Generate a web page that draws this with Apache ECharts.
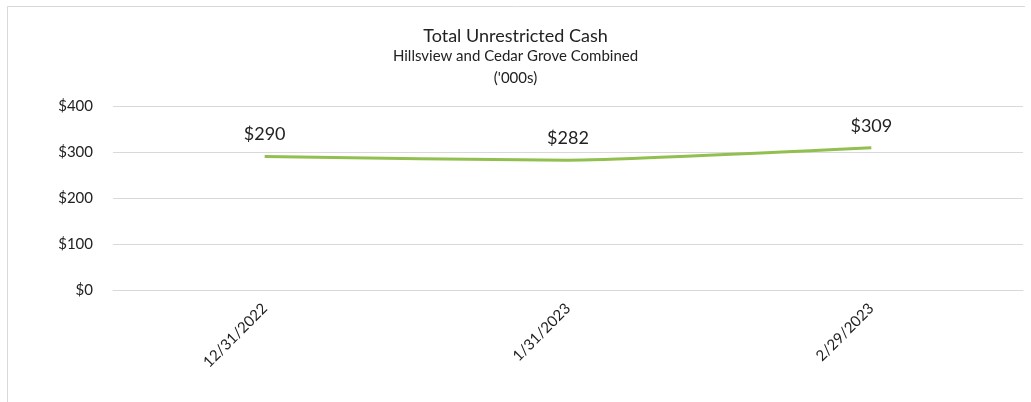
<!DOCTYPE html>
<html><head><meta charset="utf-8">
<script src="https://cdn.jsdelivr.net/npm/echarts@6/dist/echarts.min.js"></script>
<style>html,body{margin:0;padding:0;background:#fff}#c{width:1031px;height:402px}</style>
</head><body><div id="c"></div>
<script>
const categories = ['12/31/2022', '1/31/2023', '2/29/2023'];
const cashValues = [290, 282, 309];
const yTicks = [0, 100, 200, 300, 400];

const chart = echarts.init(document.getElementById('c'));
const FONT = 'Lato, "Open Sans", sans-serif';
chart.setOption({
  backgroundColor: '#fff',
  animation: false,
  graphic: [
    {type: 'line', shape: {x1: 7.5, y1: 6.5, x2: 1025, y2: 6.5}, style: {stroke: '#d9d9d9', lineWidth: 1}},
    {type: 'line', shape: {x1: 7.5, y1: 6.5, x2: 7.5, y2: 402}, style: {stroke: '#d9d9d9', lineWidth: 1}},
    {type: 'text', left: 'center', top: 27, style: {text: 'Total Unrestricted Cash', font: '18px ' + FONT, fill: '#222', textAlign: 'center'}},
    {type: 'text', left: 'center', top: 49, style: {text: 'Hillsview and Cedar Grove Combined', font: '15px ' + FONT, fill: '#222', textAlign: 'center'}},
    {type: 'text', left: 'center', top: 71, style: {text: "('000s)", font: '15px ' + FONT, fill: '#222', textAlign: 'center'}}
  ],
  grid: {left: 113, right: 8, top: 106, bottom: 112, containLabel: false},
  xAxis: {
    type: 'category',
    data: categories,
    boundaryGap: true,
    axisLine: {show: true, lineStyle: {color: '#d9d9d9'}},
    axisTick: {show: false},
    axisLabel: {rotate: 45, margin: 16, color: '#222', fontSize: 15, fontFamily: FONT}
  },
  yAxis: {
    type: 'value',
    min: yTicks[0], max: yTicks[yTicks.length - 1], interval: 100,
    axisLine: {show: false}, axisTick: {show: false},
    splitLine: {lineStyle: {color: '#d9d9d9'}},
    axisLabel: {margin: 20, color: '#222', fontSize: 15, fontFamily: FONT, formatter: v => '$' + v}
  },
  series: [{
    type: 'line',
    data: cashValues,
    symbol: 'circle',
    symbolSize: 2,
    showSymbol: true,
    smooth: 0.15,
    itemStyle: {color: 'rgba(0,0,0,0)', borderWidth: 0},
    lineStyle: {color: '#92c050', width: 3},
    label: {show: true, position: 'top', distance: 12, color: '#222', fontSize: 18, fontFamily: FONT, formatter: p => '$' + p.value}
  }]
});
</script></body></html>
